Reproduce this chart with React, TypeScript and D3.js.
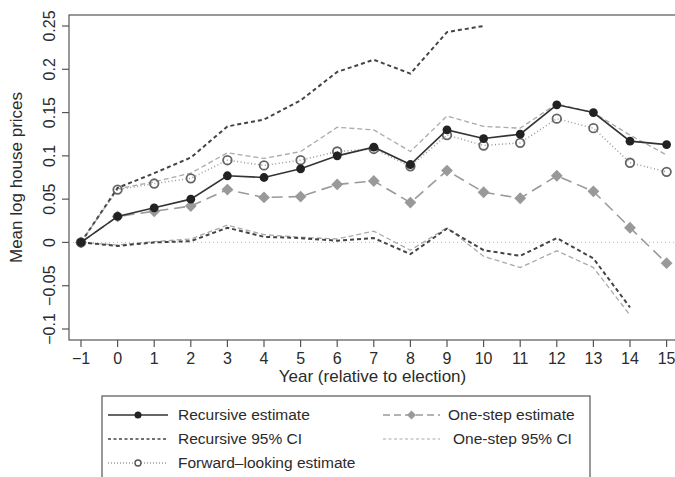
import React, { useEffect, useRef } from "react";
import * as d3 from "d3";

// years relative to election
const years = [-1, 0, 1, 2, 3, 4, 5, 6, 7, 8, 9, 10, 11, 12, 13, 14, 15];

const recursive = [0, 0.03, 0.04, 0.05, 0.077, 0.075, 0.085, 0.1, 0.11, 0.09, 0.13, 0.12, 0.125, 0.159, 0.15, 0.117, 0.113];
const recursiveHi = [0, 0.063, 0.08, 0.098, 0.134, 0.142, 0.164, 0.197, 0.211, 0.195, 0.243, 0.25, null, null, null, null, null];
const recursiveLo = [0, -0.004, 0, 0.0015, 0.017, 0.0065, 0.005, 0.002, 0.005, -0.0135, 0.016, -0.009, -0.0155, 0.005, -0.0185, -0.075, null];

const oneStep = [0, 0.03, 0.036, 0.042, 0.061, 0.052, 0.053, 0.067, 0.071, 0.046, 0.083, 0.058, 0.051, 0.077, 0.059, 0.017, -0.024];
const oneStepHi = [0, 0.062, 0.07, 0.08, 0.1035, 0.097, 0.105, 0.133, 0.13, 0.105, 0.146, 0.134, 0.132, 0.16, 0.15, 0.124, 0.101];
const oneStepLo = [0, -0.003, 0.001, 0.004, 0.02, 0.009, 0.006, 0.004, 0.013, -0.009, 0.017, -0.016, -0.029, -0.0097, -0.029, -0.084, null];

const forward = [0, 0.061, 0.068, 0.074, 0.095, 0.089, 0.095, 0.105, 0.108, 0.088, 0.124, 0.112, 0.115, 0.143, 0.132, 0.092, 0.0815];

const yTicks = [-0.1, -0.05, 0, 0.05, 0.1, 0.15, 0.2, 0.25];

const FONT = "'Liberation Sans', Arial, Helvetica, sans-serif";
const INK = "#2b2b2b";

const App = () => {
  const ref = useRef<SVGSVGElement>(null);

  useEffect(() => {
    const svg = d3.select(ref.current);
    svg.selectAll("*").remove();

    const box = { left: 69, right: 676, top: 15, bottom: 340 };

    const x = d3.scaleLinear().domain([-1, 15]).range([81, 666.6]);
    const y = d3.scaleLinear().domain([-0.1, 0.25]).range([329, 26]);

    const fmt = (v: number) => String(v).replace("-", "\u2212");

    // plot frame
    svg
      .append("rect")
      .attr("x", box.left)
      .attr("y", box.top)
      .attr("width", box.right - box.left)
      .attr("height", box.bottom - box.top)
      .attr("fill", "none")
      .attr("stroke", "#555")
      .attr("stroke-width", 1.2);

    // y axis
    const yAxis = svg.append("g").attr("transform", `translate(${box.left},0)`);
    yAxis
      .selectAll("line")
      .data(yTicks)
      .enter()
      .append("line")
      .attr("x1", 0)
      .attr("x2", -7)
      .attr("y1", (d) => y(d))
      .attr("y2", (d) => y(d))
      .attr("stroke", "#555")
      .attr("stroke-width", 1.2);
    yAxis
      .selectAll("text")
      .data(yTicks)
      .enter()
      .append("text")
      .attr("transform", (d) => `translate(-14,${y(d)}) rotate(-90)`)
      .attr("text-anchor", "middle")
      .attr("font-family", FONT)
      .attr("font-size", 16)
      .attr("fill", INK)
      .text((d) => fmt(d));

    // x axis
    const xAxis = svg.append("g").attr("transform", `translate(0,${box.bottom})`);
    xAxis
      .selectAll("line")
      .data(years)
      .enter()
      .append("line")
      .attr("x1", (d) => x(d))
      .attr("x2", (d) => x(d))
      .attr("y1", 0)
      .attr("y2", 7)
      .attr("stroke", "#555")
      .attr("stroke-width", 1.2);
    xAxis
      .selectAll("text")
      .data(years)
      .enter()
      .append("text")
      .attr("x", (d) => x(d))
      .attr("y", 24)
      .attr("text-anchor", "middle")
      .attr("font-family", FONT)
      .attr("font-size", 16)
      .attr("fill", INK)
      .text((d) => fmt(d));

    // axis titles
    svg
      .append("text")
      .attr("x", (box.left + box.right) / 2)
      .attr("y", 382)
      .attr("text-anchor", "middle")
      .attr("font-family", FONT)
      .attr("font-size", 17)
      .attr("fill", INK)
      .text("Year (relative to election)");
    svg
      .append("text")
      .attr("transform", `translate(22,${(box.top + box.bottom) / 2}) rotate(-90)`)
      .attr("text-anchor", "middle")
      .attr("font-family", FONT)
      .attr("font-size", 17)
      .attr("fill", INK)
      .text("Mean log house prices");

    // zero reference
    svg
      .append("line")
      .attr("x1", box.left)
      .attr("x2", box.right)
      .attr("y1", y(0))
      .attr("y2", y(0))
      .attr("stroke", "#bbb")
      .attr("stroke-width", 1)
      .attr("stroke-dasharray", "1,3");

    const plot = svg.append("g");

    const line = d3
      .line<number | null>()
      .defined((d) => d != null)
      .x((_, i) => x(years[i]))
      .y((d) => y(d as number));

    const drawLine = (vals: (number | null)[], color: string, width: number, dash: string | null) => {
      const p = plot
        .append("path")
        .attr("d", line(vals))
        .attr("fill", "none")
        .attr("stroke", color)
        .attr("stroke-width", width);
      if (dash) p.attr("stroke-dasharray", dash);
    };

    // confidence bands
    drawLine(oneStepHi, "#aaa", 1.3, "5,3");
    drawLine(oneStepLo, "#aaa", 1.3, "5,3");
    drawLine(recursiveHi, "#444", 2, "4,3");
    drawLine(recursiveLo, "#444", 2, "4,3");

    // one-step estimate
    drawLine(oneStep, "#9a9a9a", 1.6, "11,6");
    const diamond = d3.symbol().type(d3.symbolSquare).size(70);
    plot
      .selectAll(".diamond")
      .data(oneStep)
      .enter()
      .append("path")
      .attr("class", "diamond")
      .attr("d", diamond)
      .attr("transform", (d, i) => `translate(${x(years[i])},${y(d)}) rotate(45)`)
      .attr("fill", "#999");

    // forward-looking estimate
    drawLine(forward, "#9a9a9a", 1.5, "1,2.5");
    plot
      .selectAll(".open")
      .data(forward)
      .enter()
      .append("circle")
      .attr("class", "open")
      .attr("cx", (d, i) => x(years[i]))
      .attr("cy", (d) => y(d))
      .attr("r", 4.3)
      .attr("fill", "none")
      .attr("stroke", "#666")
      .attr("stroke-width", 1.8);

    // recursive estimate
    drawLine(recursive, "#333", 1.6, null);
    plot
      .selectAll(".filled")
      .data(recursive)
      .enter()
      .append("circle")
      .attr("class", "filled")
      .attr("cx", (d, i) => x(years[i]))
      .attr("cy", (d) => y(d))
      .attr("r", 4.4)
      .attr("fill", "#222");

    // legend
    const lg = svg.append("g");
    lg.append("rect")
      .attr("x", 102)
      .attr("y", 396)
      .attr("width", 488)
      .attr("height", 100)
      .attr("fill", "white")
      .attr("stroke", "#555")
      .attr("stroke-width", 1.2);

    const entries = [
      { label: "Recursive estimate", x0: 108, x1: 168, tx: 178, ty: 415, color: "#333", w: 1.6, dash: null, mark: "filled" },
      { label: "Recursive 95% CI", x0: 108, x1: 168, tx: 178, ty: 439, color: "#444", w: 1.4, dash: "3,2.5", mark: null },
      { label: "Forward\u2013looking estimate", x0: 108, x1: 168, tx: 178, ty: 463, color: "#9a9a9a", w: 1.3, dash: "1,2", mark: "open" },
      { label: "One-step estimate", x0: 383, x1: 440, tx: 448, ty: 415, color: "#9a9a9a", w: 1.4, dash: "7,4", mark: "diamond" },
      { label: "One-step 95% CI", x0: 383, x1: 440, tx: 453, ty: 439, color: "#aaa", w: 1.1, dash: "3,2.5", mark: null },
    ];

    entries.forEach((e) => {
      const l = lg
        .append("line")
        .attr("x1", e.x0)
        .attr("x2", e.x1)
        .attr("y1", e.ty)
        .attr("y2", e.ty)
        .attr("stroke", e.color)
        .attr("stroke-width", e.w);
      if (e.dash) l.attr("stroke-dasharray", e.dash);
      const cx = (e.x0 + e.x1) / 2;
      if (e.mark === "filled") {
        lg.append("circle").attr("cx", cx).attr("cy", e.ty).attr("r", 3.5).attr("fill", "#222");
      } else if (e.mark === "open") {
        lg.append("circle")
          .attr("cx", cx)
          .attr("cy", e.ty)
          .attr("r", 3)
          .attr("fill", "white")
          .attr("stroke", "#555")
          .attr("stroke-width", 1.4);
      } else if (e.mark === "diamond") {
        lg.append("path")
          .attr("d", d3.symbol().type(d3.symbolSquare).size(40)())
          .attr("transform", `translate(${cx},${e.ty}) rotate(45)`)
          .attr("fill", "#999");
      }
      lg.append("text")
        .attr("x", e.tx)
        .attr("y", e.ty)
        .attr("dy", "0.35em")
        .attr("font-family", FONT)
        .attr("font-size", 15.5)
        .attr("fill", INK)
        .text(e.label);
    });
  }, []);

  return (
    <svg
      ref={ref}
      width={675}
      height={477}
      style={{ position: "absolute", left: 0, top: 0, background: "white" }}
    />
  );
};

export default App;
